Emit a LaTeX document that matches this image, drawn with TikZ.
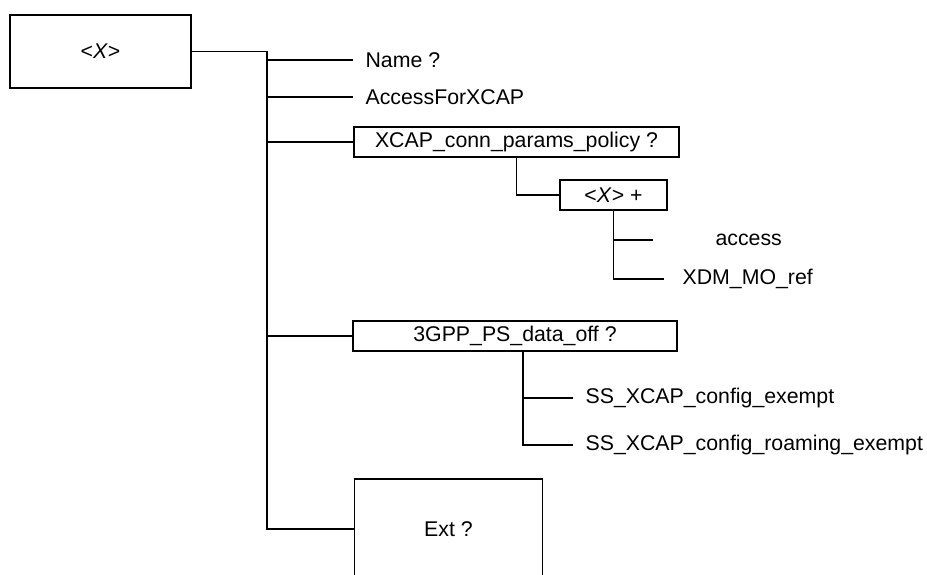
\documentclass[tikz,border=0pt]{standalone}
\usepackage{fontspec}
\setmainfont{Liberation Sans}
\usetikzlibrary{positioning}

\begin{document}
\begin{tikzpicture}[x=1pt, y=-1pt, line width=1.2pt,
  font=\fontsize{21.3}{25}\selectfont,
  box/.style={draw, inner sep=0pt, minimum height=30pt},
  leaf/.style={anchor=west, inner xsep=12pt, inner ysep=0pt}]

\useasboundingbox (0,0) rectangle (927,574);

\node[box, minimum width=181pt, minimum height=73pt] (root) at (100.5,51.5) {<\textit{X}>};
\coordinate (trunk) at (267,51.5);

\node[leaf] (name) at (353,60) {Name ?};
\node[leaf] (accxcap) at (353,97) {AccessForXCAP};
\node[box, minimum width=325pt] (connpol) at (516.5,142) {XCAP\_conn\_params\_policy ?};
\node[box, minimum width=107pt] (xentry) at (613.5,195) {<\textit{X}> +};
\node[leaf, inner xsep=62pt] (access) at (653,240) {access};
\node[leaf, inner xsep=18pt] (moref) at (664,279) {XDM\_MO\_ref};
\node[box, minimum width=324pt] (psoff) at (515,336) {3GPP\_PS\_data\_off ?};
\node[leaf] (exempt) at (573,398) {SS\_XCAP\_config\_exempt};
\node[leaf] (roaming) at (573,445) {SS\_XCAP\_config\_roaming\_exempt};
\node[box, minimum width=188pt, minimum height=100pt] (ext) at (448.5,529) {Ext ?};

\draw (root.east) -- (trunk) -- (trunk |- ext.west) -- (ext.west);
\draw (trunk |- name.west) -- (name.west);
\draw (trunk |- accxcap.west) -- (accxcap.west);
\draw (trunk |- connpol.west) -- (connpol.west);
\draw (trunk |- psoff.west) -- (psoff.west);

\draw (connpol.south) |- (xentry.west);
\draw (xentry.south) |- (access.west);
\draw (xentry.south) |- (moref.west);

\draw ([xshift=8pt]psoff.south) |- (exempt.west);
\draw ([xshift=8pt]psoff.south) |- (roaming.west);

\end{tikzpicture}
\end{document}
